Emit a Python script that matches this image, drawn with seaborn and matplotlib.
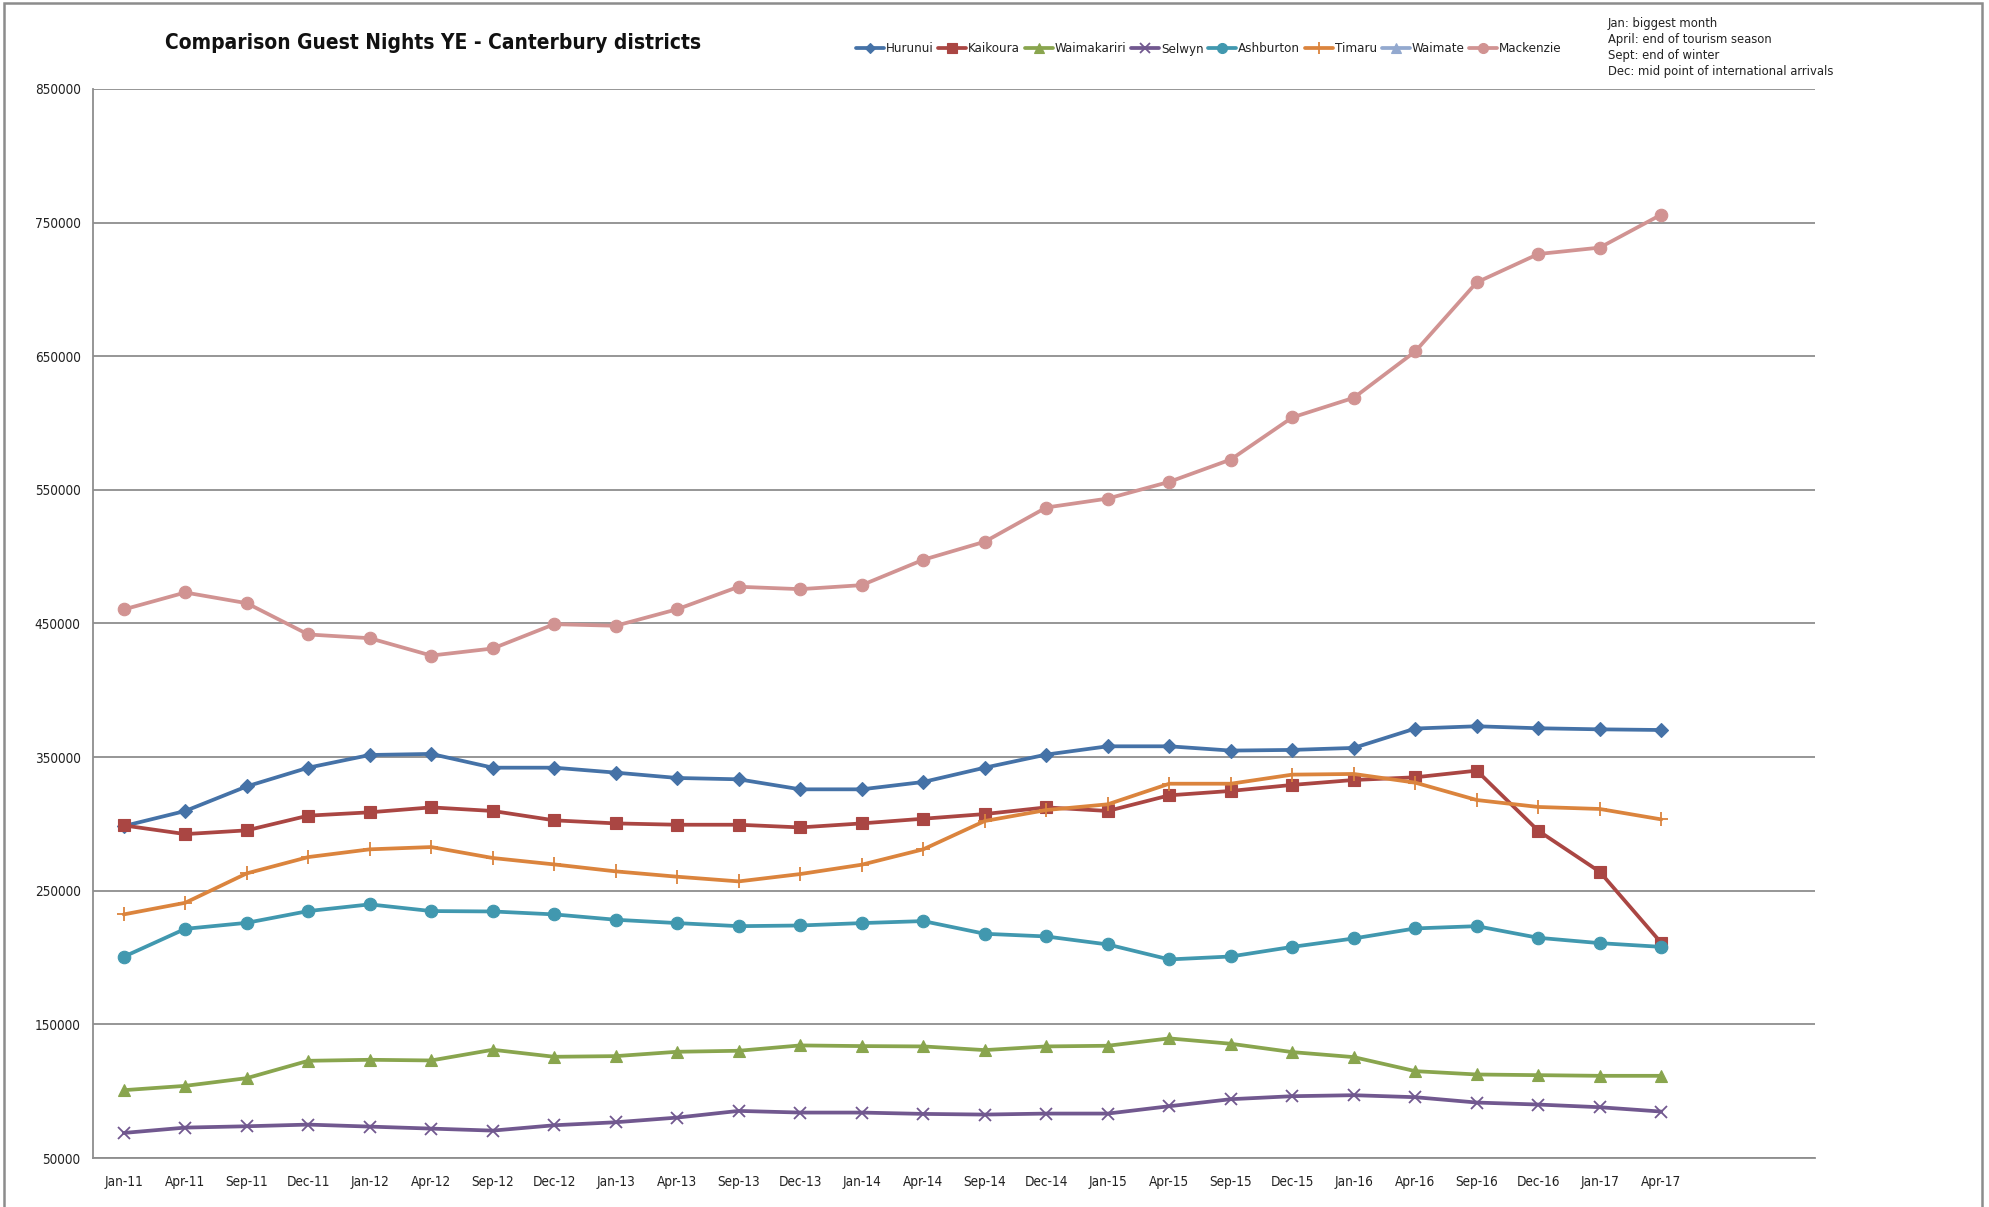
import numpy as np
import pandas as pd
import matplotlib
matplotlib.use("Agg")
import matplotlib.pyplot as plt
from matplotlib import font_manager as fm
from matplotlib.lines import Line2D
from matplotlib.patches import Rectangle
import seaborn as sns

# ---------------- data ----------------
months = ["Jan-11", "Apr-11", "Sep-11", "Dec-11", "Jan-12", "Apr-12", "Sep-12", "Dec-12",
          "Jan-13", "Apr-13", "Sep-13", "Dec-13", "Jan-14", "Apr-14", "Sep-14", "Dec-14",
          "Jan-15", "Apr-15", "Sep-15", "Dec-15", "Jan-16", "Apr-16", "Sep-16", "Dec-16",
          "Jan-17", "Apr-17"]
empty_slots = ["", ""]  # two empty categories at the right end of the axis

hurunui = [298400, 309700, 328100, 342100, 351600, 352400, 342100, 342100, 338400, 334400,
           333400, 325900, 325900, 331400, 342100, 351900, 358100, 358100, 354900, 355400,
           356900, 371400, 373100, 371600, 370800, 370300]
kaikoura = [298900, 292400, 295200, 306200, 308700, 312400, 309700, 302700, 300400, 299400,
            299400, 297400, 300400, 303900, 307400, 312400, 309700, 321400, 324700, 329200,
            332900, 334900, 339900, 294900, 264200, 211000]
waimakariri = [100750, 104000, 109750, 122750, 123500, 123000, 131000, 125750, 126250, 129500,
               130250, 134250, 133750, 133500, 130750, 133500, 134000, 139500, 135500, 129250,
               125500, 115000, 112500, 112000, 111500, 111500]
selwyn = [68750, 72750, 73750, 75000, 73500, 72000, 70500, 74500, 76750, 80250,
          85250, 84000, 84000, 83000, 82500, 83250, 83250, 88750, 94000, 96250,
          97000, 95500, 91500, 90000, 88000, 84750]
ashburton = [200600, 221500, 226000, 234800, 239800, 234800, 234500, 232300, 228300, 225800,
             223500, 224000, 225800, 227300, 217800, 215800, 209800, 198600, 200800, 208000,
             214300, 221800, 223500, 214800, 210800, 208000]
timaru = [232300, 241000, 263000, 275200, 281000, 282700, 274500, 269700, 264500, 260500,
          257000, 262500, 269500, 281000, 302200, 310400, 314700, 330100, 330100, 336900,
          337400, 330900, 317900, 312700, 311200, 303400]
waimate = []  # listed in legend, no visible values
mackenzie = [460500, 473200, 465200, 441800, 439000, 426000, 431300, 449500, 448300, 460700,
             477500, 475700, 478700, 497700, 511200, 536800, 543500, 556000, 572700, 604200,
             618900, 653600, 705300, 726500, 731300, 756000]

series_names = ["Hurunui", "Kaikoura", "Waimakariri", "Selwyn", "Ashburton", "Timaru",
                "Waimate", "Mackenzie"]
series_values = [hurunui, kaikoura, waimakariri, selwyn, ashburton, timaru, waimate, mackenzie]

y_ticks = [50000, 150000, 250000, 350000, 450000, 550000, 650000, 750000, 850000]
title_text = "Comparison Guest Nights YE - Canterbury districts"
notes_text = ("Jan: biggest month\nApril: end of tourism season\nSept: end of winter\n"
              "Dec: mid point of international arrivals")

# ---------------- styles ----------------
colors = {"Hurunui": "#4572A7", "Kaikoura": "#AA4643", "Waimakariri": "#89A54E",
          "Selwyn": "#71588F", "Ashburton": "#4198AF", "Timaru": "#DB843D",
          "Waimate": "#93A9CF", "Mackenzie": "#D19392"}
markers = {"Hurunui": "D", "Kaikoura": "s", "Waimakariri": "^", "Selwyn": "x",
           "Ashburton": "o", "Timaru": "+", "Waimate": "^", "Mackenzie": "o"}
msizes = {"Hurunui": 7, "Kaikoura": 8.5, "Waimakariri": 8.5, "Selwyn": 9,
          "Ashburton": 9, "Timaru": 10, "Waimate": 8.5, "Mackenzie": 9}

sns.set_style("white")

# pick a condensed font if one is installed
entries = fm.fontManager.ttflist
names = {f.name for f in entries}
cond_names = {f.name for f in entries if f.stretch in ("condensed", "semi-condensed",
                                                       "extra-condensed", "ultra-condensed")}
scale = 1.0
if "Liberation Sans Narrow" in names:
    fam = ["Liberation Sans Narrow", "DejaVu Sans"]
    stretch = "condensed"
elif "DejaVu Sans" in cond_names:
    fam = ["DejaVu Sans"]
    stretch = "condensed"
    scale = 0.93
elif cond_names:
    pref = [n for n in ("Roboto Condensed", "Open Sans Condensed", "Noto Sans",
                        "Roboto", "Open Sans") if n in cond_names]
    fam = [pref[0] if pref else sorted(cond_names)[0], "DejaVu Sans"]
    stretch = "condensed"
else:
    fam = ["Liberation Sans", "DejaVu Sans"]
    stretch = "normal"
    scale = 0.82
plt.rcParams["font.family"] = fam
plt.rcParams["font.stretch"] = stretch

W, H = 1989, 1207
fig = plt.figure(figsize=(W / 100, H / 100), dpi=100)
fig.patch.set_facecolor("white")

left, right, top, bottom = 93, 1815, 89, 1158
ax = fig.add_axes([left / W, 1 - bottom / H, (right - left) / W, (bottom - top) / H])

all_cats = months + empty_slots
for name, vals in zip(series_names, series_values):
    if len(vals) == 0:
        continue
    df = pd.DataFrame({"x": np.arange(len(vals)), "y": vals})
    sns.lineplot(data=df, x="x", y="y", ax=ax, color=colors[name], linewidth=2.7,
                 marker=markers[name], markersize=msizes[name],
                 markeredgecolor=colors[name], markerfacecolor=colors[name],
                 markeredgewidth=1.3 if markers[name] in ("x", "+") else 0.8,
                 legend=False, sort=False, zorder=3)

grid_c = "#8e8e8e"
ax.set_xlim(-0.5, len(all_cats) - 0.5)
ax.set_ylim(50000, 850000)
ax.set_yticks(y_ticks)
ax.set_yticklabels([str(v) for v in y_ticks])
ax.yaxis.grid(True, color=grid_c, linewidth=1.3, zorder=0)
ax.xaxis.grid(False)

# category ticks between categories, labels at centres
ax.set_xticks(np.arange(len(all_cats) + 1) - 0.5)
ax.set_xticklabels([])
ax.set_xticks(np.arange(len(all_cats)), minor=True)
ax.set_xticklabels(all_cats, minor=True)
ax.tick_params(axis="x", which="major", length=6, width=1.3, color=grid_c, direction="out")
ax.tick_params(axis="x", which="minor", length=0, pad=12, labelsize=10.5 * scale,
               labelcolor="#222222")
ax.tick_params(axis="y", length=6, width=1.3, color=grid_c, direction="out",
               labelsize=10.5 * scale, labelcolor="#222222", pad=3)
ax.set_xlabel("")
ax.set_ylabel("")
for s in ["top", "right"]:
    ax.spines[s].set_visible(False)
for s in ["left", "bottom"]:
    ax.spines[s].set_color(grid_c)
    ax.spines[s].set_linewidth(1.3)

# title
fig.text(165 / W, 1 - 43 / H, title_text, ha="left", va="center",
         fontsize=16.2 * scale, fontweight="bold", color="#111111")

# legend
handles = [Line2D([0], [0], color=colors[n], linewidth=2.7, marker=markers[n],
                  markersize=msizes[n] * 0.8, markeredgecolor=colors[n],
                  markeredgewidth=1.3 if markers[n] in ("x", "+") else 0.8)
           for n in series_names]
fig.legend(handles, series_names, ncol=8, loc="center left",
           bbox_to_anchor=(856 / W, 1 - 49 / H), frameon=False, fontsize=10.3 * scale,
           handlelength=2.1, handletextpad=0.15, columnspacing=0.35, borderaxespad=0,
           borderpad=0, labelcolor="#222222")

# notes
fig.text(1608 / W, 1 - 17 / H, notes_text, ha="left", va="top",
         fontsize=10 * scale, linespacing=1.3, color="#222222")

# chart frame
fig.patches.append(Rectangle((4 / W, -0.02), (1982 - 4) / W, 1.02 - 3 / H,
                             transform=fig.transFigure, fill=False,
                             edgecolor="#8c8c8c", linewidth=1.8))

fig.savefig("out.png", dpi=100, facecolor="white")
